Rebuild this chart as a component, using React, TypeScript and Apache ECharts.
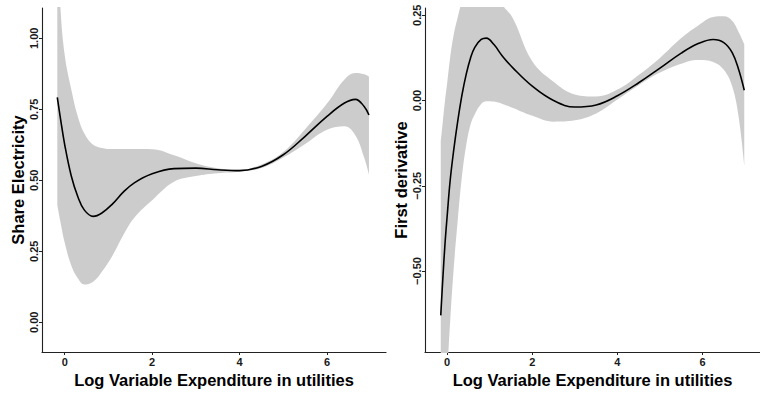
import React, { useEffect, useRef } from "react";
import * as echarts from "echarts";

// Shared x positions of the tick marks (log variable expenditure)
const xTicks = [0, 2, 4, 6];

// Left panel: share of electricity, smooth fit with confidence band
const xLeft = [-0.17, -0.1, 0, 0.15, 0.3, 0.45, 0.65, 0.85, 1.1, 1.35, 1.6, 2.0, 2.5, 3.0, 3.5, 4.0, 4.5, 5.0, 5.5, 6.0, 6.4, 6.65, 6.85, 6.96];
const fitLeft = [0.792, 0.72, 0.625, 0.515, 0.442, 0.395, 0.373, 0.385, 0.418, 0.46, 0.492, 0.523, 0.541, 0.543, 0.537, 0.534, 0.549, 0.59, 0.655, 0.725, 0.772, 0.785, 0.76, 0.73];
const upperLeft = [1.35, 1.11, 0.94, 0.82, 0.725, 0.665, 0.625, 0.614, 0.61, 0.61, 0.61, 0.609, 0.588, 0.56, 0.542, 0.537, 0.556, 0.6, 0.68, 0.77, 0.855, 0.878, 0.873, 0.865];
const lowerLeft = [0.414, 0.355, 0.28, 0.2, 0.155, 0.133, 0.143, 0.178, 0.237, 0.31, 0.37, 0.43, 0.495, 0.515, 0.525, 0.53, 0.543, 0.58, 0.628, 0.678, 0.69, 0.658, 0.58, 0.52];
const yTicksLeft = [0, 0.25, 0.5, 0.75, 1.0];

// Right panel: first derivative of the fit with confidence band
const xRight = [-0.15, -0.1, -0.05, 0, 0.07, 0.15, 0.25, 0.35, 0.45, 0.55, 0.65, 0.8, 0.92, 1.1, 1.3, 1.55, 2.0, 2.5, 3.0, 3.5, 4.0, 4.5, 5.0, 5.5, 5.9, 6.25, 6.5, 6.7, 6.85, 6.98];
const fitRight = [-0.63, -0.52, -0.42, -0.34, -0.236, -0.15, -0.06, 0.017, 0.078, 0.125, 0.156, 0.179, 0.183, 0.164, 0.13, 0.095, 0.042, 0.0, -0.019, -0.013, 0.014, 0.052, 0.095, 0.139, 0.167, 0.179, 0.17, 0.14, 0.09, 0.03];
const upperRight = [-0.12, -0.06, 0.0, 0.05, 0.125, 0.19, 0.245, 0.29, 0.315, 0.33, 0.34, 0.345, 0.34, 0.32, 0.28, 0.24, 0.115, 0.055, 0.018, 0.012, 0.032, 0.075, 0.125, 0.183, 0.22, 0.245, 0.247, 0.233, 0.2, 0.165];
const lowerRight = [-0.95, -0.9, -0.84, -0.79, -0.65, -0.5, -0.35, -0.22, -0.13, -0.07, -0.04, -0.01, -0.002, -0.003, -0.01, -0.022, -0.045, -0.062, -0.058, -0.038, 0.003, 0.045, 0.082, 0.108, 0.119, 0.113, 0.09, 0.04, -0.05, -0.19];
const yTicksRight = [-0.5, -0.25, 0, 0.25];

const FONT = "'Liberation Sans', Arial, Helvetica, sans-serif";
const BAND = "#cccccc";
const AXIS = "#222222";
const SMOOTH = 0.4;

const fmt = (v: number) => {
  const s = Math.abs(v).toFixed(2);
  return v < -1e-9 ? "\u2212" + s : s;
};

const xAxisCfg = (gridIndex: number) => ({
  type: "value" as const,
  gridIndex,
  min: -0.52,
  max: 7.35,
  name: "Log Variable Expenditure in utilities",
  nameLocation: "middle" as const,
  nameGap: 11,
  nameTextStyle: { fontFamily: FONT, fontWeight: "bold", fontSize: 16.5, color: "#000", verticalAlign: "top" },
  axisLine: { show: true, onZero: false, lineStyle: { color: AXIS, width: 1.1 } },
  axisTick: { show: true, customValues: xTicks, length: 3, lineStyle: { color: AXIS } },
  axisLabel: { customValues: xTicks, fontFamily: FONT, fontWeight: "bold", fontSize: 11, color: "#1a1a1a", margin: 4 },
  splitLine: { show: false },
});

const yAxisCfg = (gridIndex: number, name: string, min: number, max: number, ticks: number[]) => ({
  type: "value" as const,
  gridIndex,
  min,
  max,
  name,
  nameLocation: "middle" as const,
  nameGap: 16,
  nameTextStyle: { fontFamily: FONT, fontWeight: "bold", fontSize: 16.5, color: "#000" },
  axisLine: { show: true, onZero: false, lineStyle: { color: AXIS, width: 1.1 } },
  axisTick: { show: true, customValues: ticks, length: 3, lineStyle: { color: AXIS } },
  axisLabel: {
    customValues: ticks,
    rotate: 90,
    formatter: (v: number) => fmt(v),
    fontFamily: FONT,
    fontWeight: "bold",
    fontSize: 11,
    color: "#1a1a1a",
    margin: 3,
  },
  splitLine: { show: false },
});

// Rows are [y, x] so that the value (y) dimension comes first and is the one stacked
const rows = (xs: number[], ys: number[]) => xs.map((x, i) => [ys[i], x]);

const bandSeries = (idx: number, xs: number[], lo: number[], hi: number[], fit: number[]) => {
  const stack = "band" + idx;
  const common = {
    type: "line",
    xAxisIndex: idx,
    yAxisIndex: idx,
    encode: { x: 1, y: 0 },
    smooth: SMOOTH,
    symbol: "none",
    silent: true,
  };
  return [
    {
      ...common,
      data: rows(xs, lo),
      stack,
      stackStrategy: "all",
      lineStyle: { opacity: 0 },
    },
    {
      ...common,
      data: rows(xs, hi.map((h, i) => h - lo[i])),
      stack,
      stackStrategy: "all",
      lineStyle: { opacity: 0 },
      areaStyle: { color: BAND, opacity: 1 },
    },
    {
      ...common,
      data: rows(xs, fit),
      lineStyle: { color: "#000", width: 1.6 },
    },
  ];
};

export default function App() {
  const ref = useRef<HTMLDivElement>(null);

  useEffect(() => {
    if (!ref.current) return;
    const chart = echarts.init(ref.current, null, { renderer: "svg" });
    chart.setOption({
      animation: false,
      backgroundColor: "#ffffff",
      grid: [
        { left: 42, top: 8, width: 344, height: 344 },
        { left: 425, top: 8, width: 344, height: 344 },
      ],
      xAxis: [xAxisCfg(0), xAxisCfg(1)],
      yAxis: [
        yAxisCfg(0, "Share Electricity", -0.1046, 1.1067, yTicksLeft),
        yAxisCfg(1, "First derivative", -0.7375, 0.2713, yTicksRight),
      ],
      series: [
        ...bandSeries(0, xLeft, lowerLeft, upperLeft, fitLeft),
        ...bandSeries(1, xRight, lowerRight, upperRight, fitRight),
      ],
    });
    return () => chart.dispose();
  }, []);

  return (
    <div
      ref={ref}
      style={{ position: "fixed", left: 0, top: 0, width: 760, height: 394, background: "#fff" }}
    />
  );
}
